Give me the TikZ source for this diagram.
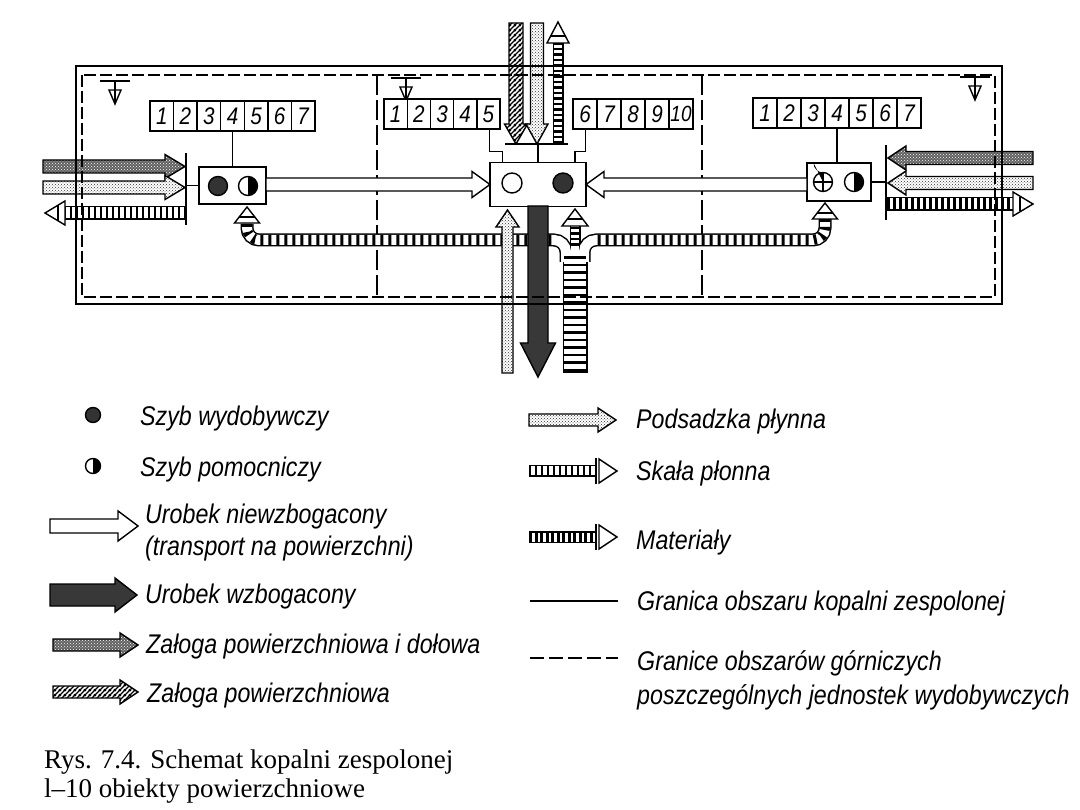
\documentclass[tikz,border=0pt]{standalone}
\usepackage{fontspec}
\usetikzlibrary{patterns,patterns.meta,calc}
\newfontfamily\lf[FakeStretch=0.86]{Liberation Sans}
\newfontfamily\cf{Liberation Serif}
\tikzdeclarepattern{
  name=hatchx, type=uncolored,
  bounding box={(0pt,0pt) and (5pt,5pt)},
  tile size={(5pt,5pt)},
  code={\draw[line width=1.5pt] (-1pt,-1pt) -- (6pt,6pt);
        \draw[line width=1.5pt] (-1pt,4pt) -- (1pt,6pt);
        \draw[line width=1.5pt] (4pt,-1pt) -- (6pt,1pt);}
}
% block arrow: style, x, y, rotation, length, half shaft, half head, head length
\newcommand\barrow[8]{\path[#1,shift={(#2,#3)},rotate=#4] (0,-#6) -- ({#5-#8},-#6) -- ({#5-#8},-#7) -- (#5,0) -- ({#5-#8},#7) -- ({#5-#8},#6) -- (0,#6) -- cycle;}
% ladder band: width, rung dash pattern, path
\newcommand\ladder[3]{\draw[line width=#1pt] #3; \draw[white,line width=#1pt-3pt] #3; \draw[line width=#1pt-3pt,dash pattern=#2] #3;}
\newcommand\ground[2]{\draw[thn] (#1-15,#2) -- (#1+15,#2); \draw[thn] (#1,#2) -- (#1,#2+22); \draw[thn,fill=white] (#1-6,#2+9) -- (#1+6,#2+9) -- (#1,#2+23) -- cycle; \draw[thn] (#1,#2) -- (#1,#2+22);}
\begin{document}
\begin{tikzpicture}[x=1pt,y=-1pt,line join=miter]
\useasboundingbox (0,0) rectangle (1080,810);
\tikzset{
 frm/.style={line width=1.8pt},
 dsh/.style={line width=1.6pt, dash pattern=on 12pt off 4pt},
 box/.style={draw, line width=1.6pt, fill=white, inner sep=0pt},
 thn/.style={line width=1.4pt},
 legtxt/.style={anchor=base west, inner sep=0pt, font=\lf\itshape\fontsize{27}{30}\selectfont},
 capt/.style={anchor=base west, inner sep=0pt, font=\cf\fontsize{27}{30}\selectfont},
 num/.style={inner sep=0pt, font=\lf\itshape\fontsize{24}{26}\selectfont},
 wht/.style={draw, line width=1.4pt, fill=white},
 drk/.style={draw, line width=1.4pt, fill=black!78},
 crs/.style={draw, line width=1.4pt, preaction={fill=black!62}, pattern=crosshatch dots, pattern color=white},
 dts/.style={draw, line width=1.4pt, preaction={fill=white}, pattern=crosshatch dots, pattern color=black!80},
 hat/.style={draw, line width=1.4pt, preaction={fill=white}, pattern=hatchx},
 headw/.style={draw, line width=1.4pt, fill=white},
}
% dividers
\draw[line width=1.5pt, dash pattern=on 20pt off 5pt] (377,75) -- (377,297);
\draw[line width=1.5pt, dash pattern=on 20pt off 5pt] (702,75) -- (702,297);

% ground symbols
\ground{115}{81}
\ground{406}{78}
\ground{975}{77}

% number boxes
\node[box, minimum width=165pt, minimum height=30pt] (nbL) at (232.5,116) {};
\foreach \i in {1,...,7} {\node[num] (nl\i) at ({150+23.57*(\i-0.5)},116) {\i};}
\foreach \i in {1,...,6} {\draw[thn] ({150+23.57*\i},101) -- ({150+23.57*\i},131);}
\node[box, minimum width=116pt, minimum height=30pt] (nbA) at (442,114) {};
\foreach \i in {1,...,5} {\node[num] (na\i) at ({384+23.2*(\i-0.5)},114) {\i};}
\foreach \i in {1,...,4} {\draw[thn] ({384+23.2*\i},99) -- ({384+23.2*\i},129);}
\node[box, minimum width=120pt, minimum height=30pt] (nbB) at (633,114) {};
\foreach \i/\t in {1/6,2/7,3/8,4/9} {\node[num] (nb\i) at ({573+24*(\i-0.5)},114) {\t};}
\node[num, font=\lf\itshape\fontsize{22}{24}\selectfont] (nb5) at ({573+24*4.5},114) {10};
\foreach \i in {1,...,4} {\draw[thn] ({573+24*\i},99) -- ({573+24*\i},129);}
\node[box, minimum width=168pt, minimum height=30pt] (nbR) at (837,113) {};
\foreach \i in {1,...,7} {\node[num] (nr\i) at ({753+24*(\i-0.5)},113) {\i};}
\foreach \i in {1,...,6} {\draw[thn] ({753+24*\i},98) -- ({753+24*\i},128);}

% shaft boxes
\node[box, minimum width=67pt, minimum height=37pt] (bL) at (232.5,185.5) {};
\node[box, minimum width=96pt, minimum height=44pt] (bC) at (538,184.5) {};
\node[box, minimum width=64pt, minimum height=38pt] (bR) at (839,182) {};

% connectors from number boxes
\draw[thn] (nbL.south) -- (bL.north);
\draw[thn] (nbR.south) -- (nbR.south |- bR.north);
\draw[thn] ($(nbA.south east)+(-11.6,0)$) |- ($(bC.north west)+(13,-10)$) -- ($(bC.north west)+(13,0)$);
\draw[thn] ($(nbB.south west)+(13,0)$) |- ($(bC.north east)+(-12,-10)$) -- ($(bC.north east)+(-12,0)$);
\coordinate (barT1) at (505,144);
\coordinate (barT2) at (568,144);
\draw[line width=1.8pt] (barT1) -- (barT2);
\draw[thn] (bC.north |- barT1) -- (bC.north);

% side bars
\coordinate (barL) at (186,190);
\coordinate (barR) at (886,182);
\draw[line width=1.8pt] (186,153) -- (186,225);
\draw[line width=1.8pt] (886,145) -- (886,220);
\draw[thn] (bL.west) -- (bL.west -| barL);
\draw[thn] (bR.east) -- (bR.east -| barR);

% shaft circles
\fill[black!80] (218,186) circle (9.5); \draw[thn] (218,186) circle (9.5);
\fill (248,186) ++(0,-9.5) arc (-90:90:9.5) -- cycle; \draw[thn] (248,186) circle (9.5);
\draw[thn] (512,183) circle (10);
\fill[black!80] (563,183) circle (10); \draw[thn] (563,183) circle (10);
\draw[thn] (823,182) circle (9.5); \draw[line width=2pt] (813.5,182) -- (832.5,182); \draw[line width=2pt] (823,172.5) -- (823,191.5);
\fill (823,182) -- (823,172.5) arc (90:180:9.5) -- cycle;
\fill (854,182) ++(0,-9.5) arc (-90:90:9.5) -- cycle; \draw[thn] (854,182) circle (9.5);

% left side arrows
\barrow{crs}{43}{166.5}{0}{142}{6.5}{12}{20}
\barrow{dts}{43}{187.5}{0}{142}{6.5}{12}{20}
\ladder{14}{on 2.5pt off 3.5pt}{(186,213) -- (65,213)}
\draw[headw] (65,201) -- (45,213) -- (65,225) -- cycle; \draw[thn] (58,205) -- (58,221);
% right side arrows
\barrow{crs}{1033}{158}{180}{145}{6.5}{12}{18}
\barrow{dts}{1033}{183}{180}{145}{6.5}{12}{18}
\ladder{14}{on 2.5pt off 3.5pt}{(887,204) -- (1013,204)}
\draw[headw] (1013,192) -- (1033,204) -- (1013,216) -- cycle; \draw[thn] (1020,197) -- (1020,211);

% top centre arrows
\barrow{hat}{516}{23}{-90}{121}{7}{11.5}{20}
\barrow{dts}{537}{23}{-90}{121}{6.5}{11}{20}
\ladder{11}{on 2.5pt off 3pt}{(558,144) -- (558,43)}
\draw[headw] (547,43) -- (558,22) -- (569,43) -- cycle; \draw[thn] (550,36) -- (566,36);

% white arrows (urobek niewzbogacony)
\barrow{wht}{266}{184.5}{0}{224}{6.5}{13}{18}
\barrow{wht}{807}{184.5}{180}{221}{6.5}{13}{18}

% ladder bundle bottom centre
\begin{scope}[rounded corners=12pt]
\draw[line width=13pt] (247,224) -- (247,240) -- (566,240) -- (566,262);
\draw[line width=13pt] (825,219) -- (825,240) -- (584,240) -- (584,262);
\end{scope}
\draw[line width=11pt] (575,262) -- (575,225);
\draw[line width=25pt] (575,373) -- (575,254);
\begin{scope}[white]
\draw[line width=10pt, rounded corners=12pt] (247,224) -- (247,240) -- (566,240) -- (566,262);
\draw[line width=10pt, rounded corners=12pt] (825,219) -- (825,240) -- (584,240) -- (584,262);
\draw[line width=8pt] (575,262) -- (575,225);
\draw[line width=22pt] (575,371.5) -- (575,254);
\end{scope}
\draw[line width=10pt, dash pattern=on 3pt off 5pt, rounded corners=12pt] (247,224) -- (247,240) -- (554,240);
\draw[line width=10pt, dash pattern=on 3pt off 5pt, rounded corners=12pt] (825,219) -- (825,240) -- (596,240);
\draw[line width=8pt, dash pattern=on 2.5pt off 3pt] (575,246) -- (575,225);
\draw[line width=22pt, dash pattern=on 2.5pt off 5pt] (575,371.5) -- (575,256);
\draw[headw] (234.5,223) -- (247,207) -- (259.5,223) -- cycle; \draw[thn] (239,217) -- (255,217);
\draw[headw] (812.5,219) -- (825,203) -- (837.5,219) -- cycle; \draw[thn] (817,213) -- (833,213);
\draw[headw] (562,226) -- (575,209) -- (588,226) -- cycle; \draw[thn] (567,219) -- (583,219);
% dark and dotted vertical arrows
\barrow{dts}{507.5}{373}{90}{163}{5.5}{11.5}{17}
\barrow{drk}{538}{206}{-90}{171}{10}{17.5}{34}

% frames
\draw[frm] (76,66) rectangle (1002,304);
\draw[dsh] (82,75) rectangle (995,297);

% ---- legend ----
\fill[black!80] (93,415) circle (7.5); \draw[thn] (93,415) circle (7.5);
\node[legtxt] (l1) at (140,426) {Szyb wydobywczy};
\fill (93,466) ++(0,-7.5) arc (-90:90:7.5) -- cycle; \draw[thn] (93,466) circle (7.5);
\node[legtxt] (l2) at (140,477) {Szyb pomocniczy};
\barrow{wht}{50}{526}{0}{88}{7}{15}{20}
\node[legtxt] (l3) at (145,523) {Urobek niewzbogacony};
\node[legtxt] (l3b) at (145,555) {(transport na powierzchni)};
\barrow{drk}{50}{595}{0}{87}{11}{17}{22}
\node[legtxt] (l4) at (145,603) {Urobek wzbogacony};
\barrow{crs}{53}{645}{0}{85}{6}{12}{18}
\node[legtxt] (l5) at (146,653) {Załoga powierzchniowa i dołowa};
\barrow{hat}{53}{692}{0}{85}{6}{12}{18}
\node[legtxt] (l6) at (147,702) {Załoga powierzchniowa};

\barrow{dts}{529}{420}{0}{87}{6}{12}{18}
\node[legtxt] (r1) at (636,429) {Podsadzka płynna};
\ladder{12}{on 2pt off 4pt}{(529,471) -- (596,471)}
\draw[line width=1.8pt] (596,458) -- (596,484);
\draw[headw] (599,459) -- (617,471) -- (599,483) -- cycle;
\node[legtxt] (r2) at (636,481) {Skała płonna};
\ladder{12}{on 3pt off 2.5pt}{(529,537) -- (596,537)}
\draw[line width=1.8pt] (596,524) -- (596,550);
\draw[headw] (599,525) -- (617,537) -- (599,549) -- cycle;
\node[legtxt] (r3) at (636,549) {Materiały};
\draw[line width=2pt] (530,601) -- (618,601);
\node[legtxt] (r4) at (637,610) {Granica obszaru kopalni zespolonej};
\draw[line width=2pt, dash pattern=on 14pt off 5pt] (530,658) -- (618,658);
\node[legtxt] (r5) at (637,670) {Granice obszarów górniczych};
\node[legtxt] (r5b) at (637,704) {poszczególnych jednostek wydobywczych};

% caption
\node[capt] (c1) at (44,768) {Rys. 7.4. Schemat kopalni zespolonej};
\node[capt] (c2) at (44,797) {l–10 obiekty powierzchniowe};
\end{tikzpicture}
\end{document}
